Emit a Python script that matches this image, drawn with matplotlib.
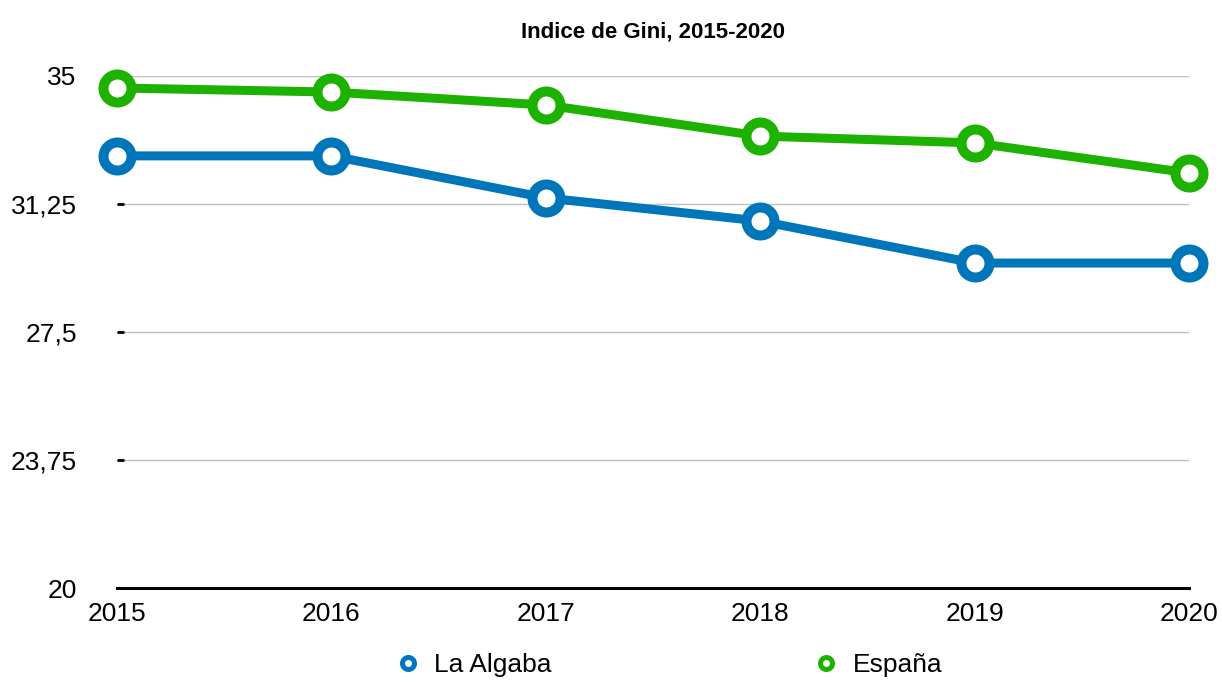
import matplotlib.pyplot as plt
from matplotlib.lines import Line2D

# ---------------------------
# data
# ---------------------------
years = [2015, 2016, 2017, 2018, 2019, 2020]
la_algaba = [32.66, 32.66, 31.43, 30.75, 29.52, 29.52]
espana = [34.65, 34.53, 34.15, 33.24, 33.04, 32.16]
yticks = [20, 23.75, 27.5, 31.25, 35]
ytick_labels = ['20', '23,75', '27,5', '31,25', '35']

blue = '#0076BA'
green = '#1DB100'

plt.rcParams['font.family'] = ['Liberation Sans', 'DejaVu Sans']

fig = plt.figure(figsize=(12.22, 6.82), dpi=100)
ax = fig.add_axes([117 / 1222, 1 - 588 / 682, (1189 - 117) / 1222, (588 - 76) / 682])

px = 0.72  # pixels -> points
for vals, col, lab in [(la_algaba, blue, 'La Algaba'), (espana, green, 'España')]:
    ax.plot(years, vals, color=col, lw=9 * px, marker='o', ms=28 * px,
            mfc='white', mec=col, mew=10 * px, label=lab, zorder=3, clip_on=False)

ax.set_xlim(2015, 2020)
ax.set_ylim(20, 35)
ax.set_xticks(years)
ax.set_xticklabels([str(y) for y in years])
ax.set_yticks(yticks)
ax.set_yticklabels(ytick_labels)
ax.grid(axis='y', color='#c0c0c0', lw=1)
ax.set_axisbelow(True)

for s in ['top', 'right', 'left']:
    ax.spines[s].set_visible(False)
ax.spines['bottom'].set_linewidth(2.2)
ax.spines['bottom'].set_color('black')

ax.tick_params(axis='x', length=0, labelsize=19, pad=10)
ax.tick_params(axis='y', direction='in', length=5, width=2, labelsize=19, pad=29)
ax.yaxis.get_major_ticks()[0].tick1line.set_visible(False)

ax.set_title('Indice de Gini, 2015-2020', fontsize=16, fontweight='bold',
             family=['Liberation Sans Narrow', 'DejaVu Sans Condensed', 'Liberation Sans'],
             pad=28)

handles = [Line2D([], [], ls='none', marker='o', ms=12 * px, mfc='white', mec=c, mew=5 * px)
           for c in [blue, green]]
fig.legend(handles, ['La Algaba', 'España'], loc='center', ncol=2,
           bbox_to_anchor=(0.547, 0.025), frameon=False, fontsize=19,
           handletextpad=0.5, columnspacing=9.9, handlelength=1.0)

fig.savefig('out.png', dpi=100)
